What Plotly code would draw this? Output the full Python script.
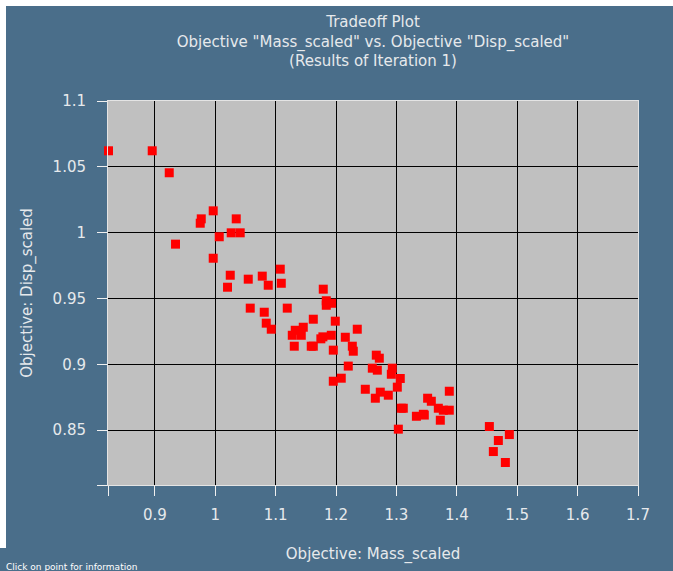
import plotly.graph_objects as go

# Objective values for each design evaluated in iteration 1
mass_scaled = [
    0.8233, 0.8957, 0.9239, 0.9343, 0.9769, 0.9752, 0.9967, 1.0348, 1.0067, 1.0265,
    1.0414, 0.9967, 1.0249, 1.0204, 1.0547, 1.0779, 1.0878, 1.1077, 1.1094, 1.0580,
    1.0812, 1.1193, 1.0845, 1.0928, 1.1789, 1.1839, 1.1839, 1.1927, 1.1624, 1.1988,
    1.2352, 1.1458, 1.1325, 1.1276, 1.1425, 1.1783, 1.1749, 1.1922, 1.2154, 1.1309,
    1.1590, 1.1624, 1.1955, 1.2270, 1.2286, 1.2203, 1.2667, 1.2717, 1.2601, 1.2684,
    1.2932, 1.2916, 1.3064, 1.1955, 1.2087, 1.3015, 1.2485, 1.2733, 1.2866, 1.2651,
    1.3517, 1.3578, 1.3876, 1.3081, 1.3114, 1.3331, 1.3446, 1.3462, 1.3694, 1.3777,
    1.3876, 1.3727, 1.3032, 1.4539, 1.4870, 1.4688, 1.4605, 1.4804,
]
disp_scaled = [
    1.0622, 1.0622, 1.0455, 0.9913, 1.0105, 1.0072, 1.0166, 1.0105, 0.9969, 0.9999,
    0.9999, 0.9806, 0.9677, 0.9586, 0.9647, 0.9670, 0.9601, 0.9723, 0.9616, 0.9427,
    0.9396, 0.9427, 0.9313, 0.9267, 0.9571, 0.9483, 0.9449, 0.9464, 0.9343, 0.9328,
    0.9267, 0.9282, 0.9259, 0.9221, 0.9221, 0.9209, 0.9194, 0.9221, 0.9206, 0.9138,
    0.9138, 0.9138, 0.9108, 0.9138, 0.9100, 0.8987, 0.9070, 0.9047, 0.8971, 0.8956,
    0.8971, 0.8925, 0.8893, 0.8872, 0.8895, 0.8827, 0.8811, 0.8789, 0.8766, 0.8743,
    0.8743, 0.8720, 0.8796, 0.8667, 0.8667, 0.8606, 0.8621, 0.8615, 0.8667, 0.8652,
    0.8652, 0.8576, 0.8508, 0.8528, 0.8467, 0.8422, 0.8338, 0.8255,
]

x_range = [0.8225, 1.7]
y_range = [0.8084, 1.1]
x_ticks = [0.9, 1.0, 1.1, 1.2, 1.3, 1.4, 1.5, 1.6, 1.7]
x_tick_text = ["0.9", "1", "1.1", "1.2", "1.3", "1.4", "1.5", "1.6", "1.7"]
y_ticks = [0.85, 0.9, 0.95, 1.0, 1.05, 1.1]
y_tick_text = ["0.85", "0.9", "0.95", "1", "1.05", "1.1"]

BG = "#4a6e8a"
FG = "#e6e9ec"
FONT = "DejaVu Sans"
W, H = 673, 571
ML, MR, MT, MB = 108, 35, 101, 86

fig = go.Figure()
fig.add_trace(go.Scatter(
    x=mass_scaled, y=disp_scaled, mode="markers",
    marker=dict(symbol="square", size=9, color="#ff0000", line=dict(width=0)),
    cliponaxis=False, hoverinfo="x+y", showlegend=False,
))

axis_common = dict(
    showgrid=True, gridcolor="#000000", gridwidth=1,
    zeroline=False, showline=True, linecolor="#e4e4e4", linewidth=1, mirror=True,
    ticks="outside", ticklen=10, tickcolor="#f0f0f0", tickwidth=1,
    tickfont=dict(family=FONT, size=15, color=FG),
)

fig.update_xaxes(
    range=x_range, tickmode="array",
    tickvals=[x_range[0]] + x_ticks, ticktext=[""] + x_tick_text,
    title=dict(text="Objective: Mass_scaled", font=dict(family=FONT, size=15, color=FG), standoff=25),
    ticklabelstandoff=6,
    **axis_common,
)
fig.update_yaxes(
    range=y_range, tickmode="array",
    tickvals=[y_range[0]] + y_ticks, ticktext=[""] + y_tick_text,
    title=dict(text="Objective: Disp_scaled", font=dict(family=FONT, size=15, color=FG), standoff=16),
    ticklabelstandoff=8,
    **axis_common,
)

# thin white frame along the top and left edges of the window
px = lambda v: (v - ML) / (W - ML - MR)
py = lambda v: (H - MB - v) / (H - MT - MB)
fig.add_shape(type="rect", xref="paper", yref="paper",
              x0=px(0), x1=px(W), y0=py(6), y1=py(0),
              fillcolor="white", line=dict(width=0), layer="above")
fig.add_shape(type="rect", xref="paper", yref="paper",
              x0=px(0), x1=px(6), y0=py(548), y1=py(0),
              fillcolor="white", line=dict(width=0), layer="above")

fig.add_annotation(
    text="Click on point for information", xref="paper", yref="paper",
    x=px(4), y=py(574), xanchor="left", yanchor="bottom", showarrow=False,
    font=dict(family=FONT, size=9, color="#ffffff"),
)

fig.update_layout(
    width=W, height=H,
    margin=dict(l=ML, r=MR, t=MT, b=MB, autoexpand=False),
    paper_bgcolor=BG, plot_bgcolor="#c0c0c0",
    title=dict(
        text='Tradeoff Plot<br>Objective "Mass_scaled" vs. Objective "Disp_scaled"<br>(Results of Iteration 1)',
        x=0.5, xref="paper", xanchor="center",
        y=1 - 27 / H, yref="container", yanchor="top",
        font=dict(family=FONT, size=15, color=FG),
    ),
    font=dict(family=FONT, color=FG),
)

fig.write_html("out.html")
